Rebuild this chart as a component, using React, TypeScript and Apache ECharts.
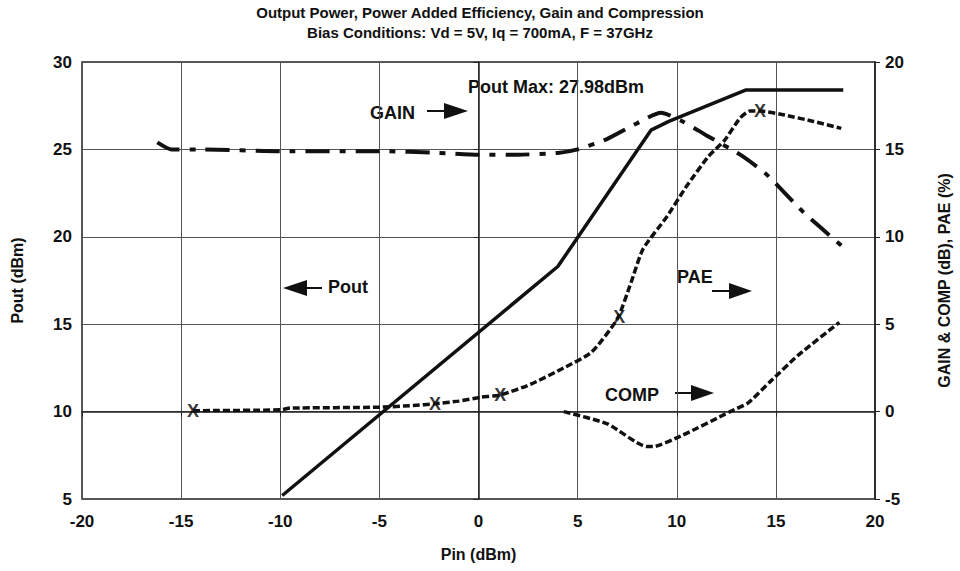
import React, { useEffect, useRef } from "react";
import * as echarts from "echarts";

const TITLE_1 = "Output Power, Power Added Efficiency, Gain and Compression";
const TITLE_2 = "Bias Conditions: Vd = 5V, Iq = 700mA, F = 37GHz";

// Pin (dBm) vs Pout (dBm) — left axis
const poutData: number[][] = [
  [-9.9, 5.2], [4.0, 18.3], [8.7, 26.1], [9.6, 26.6], [13.5, 28.4], [18.4, 28.4],
];

// Gain (dB) — right axis
const gainData: number[][] = [
  [-16.2, 15.4], [-15.5, 15.0], [-14, 15.0], [-10, 14.9], [-5, 14.9], [-2, 14.8],
  [0, 14.7], [2, 14.7], [4, 14.8], [5, 15.0], [6.5, 15.6], [8, 16.5], [9.2, 17.1],
  [10.3, 16.6], [11.5, 15.8], [13.2, 14.7], [14.5, 13.6], [16.4, 11.4], [18.3, 9.5],
];

// PAE (%) — right axis
const paeData: number[][] = [
  [-14.4, 0.05], [-10, 0.1], [-9.5, 0.2], [-5, 0.25], [-3.3, 0.35], [-2.2, 0.45],
  [-1, 0.6], [0.1, 0.82], [1.1, 0.95], [2.6, 1.55], [4.3, 2.5], [5.7, 3.4],
  [7.0, 5.3], [7.7, 7.4], [8.3, 9.3], [9.5, 11.15], [10.5, 12.9], [11.6, 14.6],
  [12.4, 15.5], [13.2, 16.8], [13.7, 17.2], [14.2, 17.2], [15.3, 17.0],
  [16.9, 16.6], [18.3, 16.2],
];

// PAE sample markers ("X")
const paeMarkers: number[][] = [
  [-14.4, 0.05], [-2.2, 0.45], [1.1, 0.95], [7.1, 5.4], [14.2, 17.2],
];

// Compression (dB) — right axis
const compData: number[][] = [
  [4.3, 0.0], [6.5, -0.7], [8.5, -2.0], [8.8, -2.0], [10.2, -1.4], [12.7, 0.0],
  [13.6, 0.5], [14.7, 1.7], [16.1, 3.2], [18.2, 5.1],
];

const X_TICKS = { min: -20, max: 20, interval: 5 };
const LEFT_TICKS = { min: 5, max: 30, interval: 5 };
const RIGHT_TICKS = { min: -5, max: 20, interval: 5 };

const FONT = "'Liberation Sans', Arial, sans-serif";

export default function App() {
  const ref = useRef<HTMLDivElement>(null);
  useEffect(() => {
    document.body.style.margin = "0";
    if (!ref.current) return;
    const chart = echarts.init(ref.current, undefined, { renderer: "svg" });
    const axisLabel = { color: "#111", fontWeight: "bold" as const, fontSize: 17, fontFamily: FONT };
    const nameStyle = { color: "#111", fontWeight: "bold" as const, fontSize: 16, fontFamily: FONT };
    const annot = (x: number, y: number, text: string) => ({
      type: "text", x, y,
      style: { text, fill: "#111", font: `bold 18px ${FONT}`, textVerticalAlign: "middle" },
    });
    const arrowR = (x0: number, x1: number, x2: number, y: number) => [
      { type: "line", shape: { x1: x0, y1: y, x2: x1, y2: y }, style: { stroke: "#111", lineWidth: 2 } },
      { type: "polygon", shape: { points: [[x1, y - 8], [x2, y], [x1, y + 8]] }, style: { fill: "#111" } },
    ];
    chart.setOption({
      animation: false,
      backgroundColor: "#fff",
      title: {
        text: TITLE_1 + "\n" + TITLE_2,
        left: "center",
        top: -3,
        textStyle: { color: "#111", fontWeight: "bold", fontSize: 15, lineHeight: 20, fontFamily: FONT },
      },
      grid: { left: 82, right: 84, top: 62, bottom: 72, show: true, borderColor: "#222", borderWidth: 1.5 },
      xAxis: {
        type: "value", ...X_TICKS,
        name: "Pin (dBm)", nameLocation: "middle", nameGap: 47, nameTextStyle: nameStyle,
        axisLine: { lineStyle: { color: "#222", width: 1.5 } },
        axisTick: { show: true, length: 5, lineStyle: { color: "#222" } },
        axisLabel: { ...axisLabel, margin: 14 },
        splitLine: { show: true, lineStyle: { color: "#555", width: 1 } },
      },
      yAxis: [
        {
          type: "value", ...LEFT_TICKS, position: "left",
          name: "Pout (dBm)", nameLocation: "middle", nameGap: 57, nameTextStyle: nameStyle,
          axisLine: { show: true, lineStyle: { color: "#222", width: 1.5 } },
          axisTick: { show: true, length: 5, lineStyle: { color: "#222" } },
          axisLabel: { ...axisLabel, margin: 10 },
          splitLine: { show: true, lineStyle: { color: "#555", width: 1 } },
        },
        {
          type: "value", ...RIGHT_TICKS, position: "right",
          name: "GAIN & COMP (dB), PAE (%)", nameLocation: "middle", nameGap: 61, nameTextStyle: nameStyle,
          nameRotate: 90,
          axisLine: { show: true, lineStyle: { color: "#222", width: 1.5 } },
          axisTick: { show: true, length: 5, lineStyle: { color: "#222" } },
          axisLabel: { ...axisLabel, margin: 10 },
          splitLine: { show: false },
        },
      ],
      series: [
        {
          name: "Pout", type: "line", yAxisIndex: 0, data: poutData, showSymbol: false, symbol: "none",
          lineStyle: { color: "#111", width: 3.5 },
        },
        {
          name: "GAIN", type: "line", yAxisIndex: 1, data: gainData, showSymbol: false, symbol: "none", smooth: 0.2,
          lineStyle: { color: "#111", width: 4, type: [24, 10, 6, 10], cap: "butt" },
        },
        {
          name: "PAE", type: "line", yAxisIndex: 1, data: paeData, showSymbol: false, symbol: "none", smooth: 0.2,
          lineStyle: { color: "#111", width: 3.5, type: [7, 3], cap: "butt" },
        },
        {
          name: "COMP", type: "line", yAxisIndex: 1, data: compData, showSymbol: false, symbol: "none", smooth: 0.2,
          lineStyle: { color: "#111", width: 3.5, type: [7, 3], cap: "butt" },
        },
        {
          name: "PAE markers", type: "scatter", yAxisIndex: 1, data: paeMarkers,
          symbol: "circle", symbolSize: 1, itemStyle: { color: "rgba(0,0,0,0)" },
          label: {
            show: true, position: "inside", formatter: "X",
            color: "#000", fontWeight: "bold", fontSize: 18, fontFamily: FONT,
          },
        },
      ],
      graphic: [
        annot(370, 113, "GAIN"),
        ...arrowR(427, 444, 468, 111),
        annot(468, 87, "Pout Max: 27.98dBm"),
        annot(328, 287, "Pout"),
        { type: "line", shape: { x1: 305, y1: 288, x2: 322, y2: 288 }, style: { stroke: "#111", lineWidth: 2 } },
        { type: "polygon", shape: { points: [[307, 280], [283, 288], [307, 296]] }, style: { fill: "#111" } },
        annot(677, 277, "PAE"),
        ...arrowR(712, 729, 752, 291),
        annot(605, 395, "COMP"),
        ...arrowR(675, 691, 714, 393),
      ],
    });
    return () => chart.dispose();
  }, []);
  return <div ref={ref} style={{ width: 960, height: 571 }} />;
}
